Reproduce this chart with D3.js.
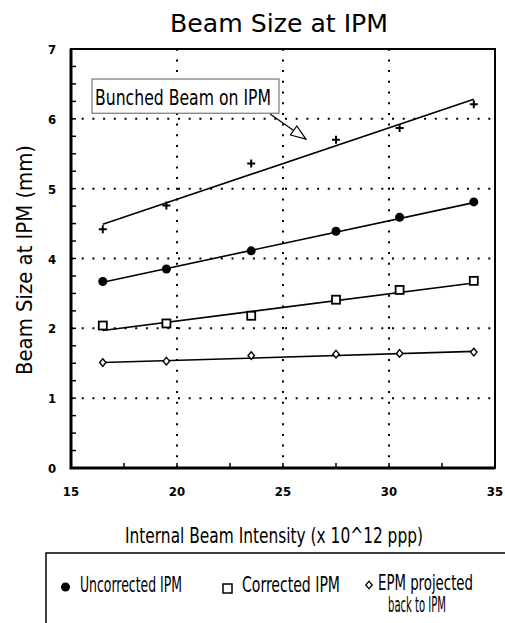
<!DOCTYPE html>
<html>
<head>
<meta charset="utf-8">
<script src="https://cdn.jsdelivr.net/npm/d3@7"></script>
<style>
  body { margin: 0; background: #fff; }
  svg { display: block; }
  .narrow { font-family: "Liberation Sans Narrow", "DejaVu Sans Condensed", "Liberation Sans", sans-serif; }
  .tick-label { font-family: "DejaVu Sans Condensed", "DejaVu Sans", sans-serif; font-weight: bold; font-size: 13px; }
</style>
</head>
<body>
<div id="chart"></div>
<script>
// intensity (x 10^12 ppp)
const intensity = [16.5, 19.5, 23.5, 27.5, 30.5, 34];
// beam size, read against the drawn gridlines
const uncorrected = [2.67, 2.85, 3.11, 3.39, 3.59, 3.81];
const corrected = [2.04, 2.07, 2.18, 2.41, 2.55, 2.68];
const epmProjected = [1.51, 1.53, 1.61, 1.63, 1.64, 1.66];
const bunched = [3.42, 3.76, 4.36, 4.70, 4.87, 5.21];

// straight fit lines, [start, end] at fitX
const fitX = [16.5, 34];
const fitUncorrected = [2.66, 3.80];
const fitCorrected = [1.97, 2.65];
const fitEpm = [1.51, 1.67];
const fitBunched = [3.49, 5.28];

const xTicks = [15, 20, 25, 30, 35];
const yTickLabels = ["0", "1", "2", "4", "5", "6", "7"];

(function () {
  let width = 505,
    height = 623,
    left = 71, right = 495, top = 49, bottom = 468;

  let x = d3.scaleLinear().domain([15, 35]).range([left, right]);
  let y = d3.scaleLinear().domain([0, yTickLabels.length - 1]).range([bottom, top]);

  let svg = d3.select("#chart").append("svg")
    .attr("width", width)
    .attr("height", height);

  // title
  svg.append("text")
    .attr("class", "narrow")
    .attr("x", 279).attr("y", 32)
    .attr("text-anchor", "middle")
    .attr("font-size", 25)
    .attr("textLength", 218).attr("lengthAdjust", "spacingAndGlyphs")
    .text("Beam Size at IPM");

  // dotted grid
  let grid = svg.append("g")
    .attr("stroke", "#000")
    .attr("stroke-width", 2)
    .attr("stroke-dasharray", "2,8.7");
  grid.selectAll(".vgrid").data([20, 25, 30]).enter()
    .append("line")
    .attr("x1", d => x(d)).attr("x2", d => x(d))
    .attr("y1", bottom).attr("y2", top);
  grid.selectAll(".hgrid").data([1, 2, 3, 4, 5]).enter()
    .append("line")
    .attr("y1", d => y(d)).attr("y2", d => y(d))
    .attr("x1", left).attr("x2", right);

  // minor ticks, inward
  let yMinor = d3.range(0, (yTickLabels.length - 1) * 4 + 1).map(i => i / 4);
  let xMinor = d3.range(15, 35.01, 2.5);
  svg.append("g").selectAll("line").data(yMinor).enter()
    .append("line")
    .attr("x1", left).attr("x2", left + 5)
    .attr("y1", d => y(d)).attr("y2", d => y(d))
    .attr("stroke", "#000").attr("stroke-width", 1.5);
  svg.append("g").selectAll("line").data(xMinor).enter()
    .append("line")
    .attr("x1", d => x(d)).attr("x2", d => x(d))
    .attr("y1", bottom).attr("y2", bottom - 5)
    .attr("stroke", "#000").attr("stroke-width", 1.5);

  // frame
  svg.append("rect")
    .attr("x", left).attr("y", top)
    .attr("width", right - left).attr("height", bottom - top)
    .attr("fill", "none").attr("stroke", "#000").attr("stroke-width", 2);
  svg.append("path")
    .attr("d", `M${left},${top}V${bottom}H${right}`)
    .attr("fill", "none").attr("stroke", "#000").attr("stroke-width", 3);

  // tick labels
  svg.append("g").selectAll("text").data(xTicks).enter()
    .append("text")
    .attr("class", "tick-label")
    .attr("x", d => x(d)).attr("y", 496)
    .attr("text-anchor", "middle")
    .text(d => d);
  svg.append("g").selectAll("text").data(yTickLabels).enter()
    .append("text")
    .attr("class", "tick-label")
    .attr("x", 52).attr("y", (d, i) => y(i) + 5)
    .attr("text-anchor", "middle")
    .text(d => d);

  // axis titles
  svg.append("text")
    .attr("class", "narrow")
    .attr("x", 274).attr("y", 543)
    .attr("text-anchor", "middle")
    .attr("font-size", 21)
    .attr("textLength", 298).attr("lengthAdjust", "spacingAndGlyphs")
    .text("Internal Beam Intensity (x 10^12 ppp)");
  svg.append("text")
    .attr("class", "narrow")
    .attr("transform", "translate(32,260) rotate(-90)")
    .attr("text-anchor", "middle")
    .attr("font-size", 21)
    .attr("textLength", 230).attr("lengthAdjust", "spacingAndGlyphs")
    .text("Beam Size at IPM (mm)");

  // fit lines
  let fits = [fitUncorrected, fitCorrected, fitEpm, fitBunched];
  svg.append("g").selectAll("line").data(fits).enter()
    .append("line")
    .attr("x1", x(fitX[0])).attr("x2", x(fitX[1]))
    .attr("y1", d => y(d[0])).attr("y2", d => y(d[1]))
    .attr("stroke", "#000").attr("stroke-width", 1.6);

  function pairs(values) {
    return values.map((v, i) => [intensity[i], v]);
  }

  // markers
  svg.append("g").selectAll("circle").data(pairs(uncorrected)).enter()
    .append("circle")
    .attr("cx", d => x(d[0])).attr("cy", d => y(d[1]))
    .attr("r", 4.5).attr("fill", "#000");

  svg.append("g").selectAll("rect").data(pairs(corrected)).enter()
    .append("rect")
    .attr("x", d => x(d[0]) - 4).attr("y", d => y(d[1]) - 4)
    .attr("width", 8).attr("height", 8)
    .attr("fill", "#fff").attr("stroke", "#000").attr("stroke-width", 1.8);

  let diamond = "M0,-3.8L3.2,0L0,3.8L-3.2,0Z";
  svg.append("g").selectAll("path").data(pairs(epmProjected)).enter()
    .append("path")
    .attr("transform", d => `translate(${x(d[0])},${y(d[1])})`)
    .attr("d", diamond)
    .attr("fill", "#fff").attr("stroke", "#000").attr("stroke-width", 1.4);

  svg.append("g").selectAll("path").data(pairs(bunched)).enter()
    .append("path")
    .attr("transform", d => `translate(${x(d[0])},${y(d[1])})`)
    .attr("d", "M-4,0H4M0,-4V4")
    .attr("stroke", "#000").attr("stroke-width", 2);

  // annotation box + hollow arrow
  let boxX0 = x(15.99), boxX1 = x(24.81), boxY0 = y(5.57), boxY1 = y(5.08);
  svg.append("rect")
    .attr("x", boxX0).attr("y", boxY0)
    .attr("width", boxX1 - boxX0).attr("height", boxY1 - boxY0)
    .attr("fill", "#fff").attr("stroke", "#777").attr("stroke-width", 1.2);
  svg.append("text")
    .attr("class", "narrow")
    .attr("x", boxX0 + 3).attr("y", boxY0 + 26)
    .attr("font-size", 22)
    .attr("textLength", 176).attr("lengthAdjust", "spacingAndGlyphs")
    .text("Bunched Beam on IPM");

  let ax0 = x(24.39), ay0 = y(5.07), ax1 = x(26.08), ay1 = y(4.71);
  let ang = Math.atan2(ay1 - ay0, ax1 - ax0),
    headLen = 15, headW = 5.5;
  let bx = ax1 - headLen * Math.cos(ang), by = ay1 - headLen * Math.sin(ang);
  let px = -Math.sin(ang), py = Math.cos(ang);
  svg.append("line")
    .attr("x1", ax0).attr("y1", ay0).attr("x2", bx).attr("y2", by)
    .attr("stroke", "#000").attr("stroke-width", 1.2);
  svg.append("path")
    .attr("d", `M${ax1},${ay1}L${bx + px * headW},${by + py * headW}L${bx - px * headW},${by - py * headW}Z`)
    .attr("fill", "#fff").attr("stroke", "#000").attr("stroke-width", 1.2);

  // legend
  svg.append("rect")
    .attr("x", 46).attr("y", 553)
    .attr("width", 480).attr("height", 100)
    .attr("fill", "none").attr("stroke", "#000").attr("stroke-width", 1.5);

  let legend = svg.append("g");
  legend.append("circle").attr("cx", 65.5).attr("cy", 587).attr("r", 4.5).attr("fill", "#000");
  legend.append("text").attr("class", "narrow")
    .attr("x", 80).attr("y", 592).attr("font-size", 21)
    .attr("textLength", 102).attr("lengthAdjust", "spacingAndGlyphs")
    .text("Uncorrected IPM");
  legend.append("rect").attr("x", 223).attr("y", 584).attr("width", 9).attr("height", 9)
    .attr("fill", "#fff").attr("stroke", "#000").attr("stroke-width", 1.5);
  legend.append("text").attr("class", "narrow")
    .attr("x", 242).attr("y", 592).attr("font-size", 21)
    .attr("textLength", 98).attr("lengthAdjust", "spacingAndGlyphs")
    .text("Corrected IPM");
  legend.append("path").attr("transform", "translate(369,585)").attr("d", diamond)
    .attr("fill", "#fff").attr("stroke", "#000").attr("stroke-width", 1.3);
  legend.append("text").attr("class", "narrow")
    .attr("x", 378).attr("y", 590).attr("font-size", 21)
    .attr("textLength", 95).attr("lengthAdjust", "spacingAndGlyphs")
    .text("EPM projected");
  legend.append("text").attr("class", "narrow")
    .attr("x", 388).attr("y", 612).attr("font-size", 21)
    .attr("textLength", 58).attr("lengthAdjust", "spacingAndGlyphs")
    .text("back to IPM");
})();
</script>
</body>
</html>
